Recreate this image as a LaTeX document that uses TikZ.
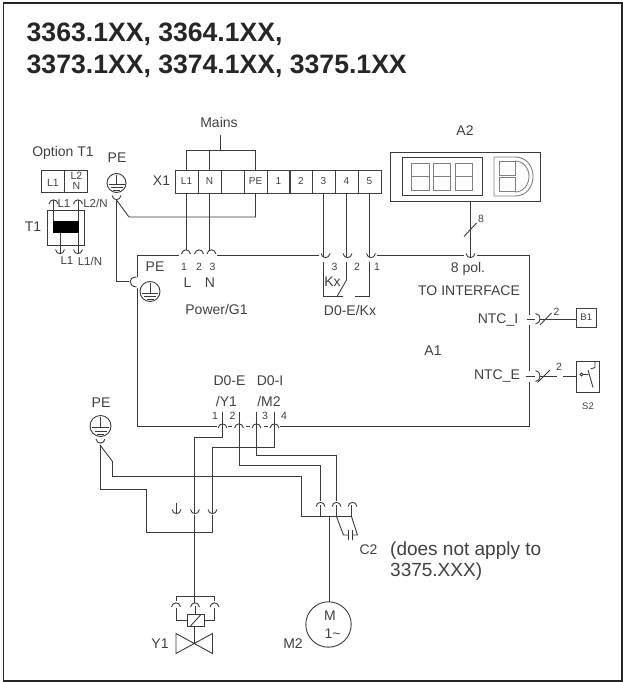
\documentclass[tikz,border=0pt]{standalone}
\usepackage{fontspec}
\setmainfont{Liberation Sans}
\usepackage{tikz}
\definecolor{inkwire}{HTML}{3A3A3A}
\definecolor{inktext}{HTML}{404040}
\newcommand{\hatcon}[2]{(#1-4.5,#2+2) .. controls (#1-3.5,#2-3.5) and (#1+3.5,#2-3.5) .. (#1+4.5,#2+2)}
\newcommand{\cupcon}[2]{(#1-4.5,#2-2) .. controls (#1-3.5,#2+3.5) and (#1+3.5,#2+3.5) .. (#1+4.5,#2-2)}
\tikzset{
  wire/.style={color=inkwire,line width=0.9pt},
  lbl/.style={color=inktext,font=\fontsize{14}{16}\selectfont,inner sep=0pt},
  smalllbl/.style={color=inktext,font=\fontsize{10.5}{12}\selectfont,inner sep=0pt},
  notelbl/.style={color=inktext,font=\fontsize{19}{22}\selectfont,inner sep=0pt},
  titlelbl/.style={color=black!85,font=\fontsize{26.6}{30}\selectfont\bfseries,inner sep=0pt},
  cell/.style={draw=inkwire,line width=0.9pt,color=inktext,font=\fontsize{10}{12}\selectfont,minimum width=23pt,minimum height=23pt,inner sep=0pt}
}
\begin{document}
\begin{tikzpicture}[x=1pt,y=-1pt]
      \useasboundingbox (0,0) rectangle (623,682);
      \draw[color=black!85,line width=1.5pt] (3.5,3) rectangle (622,681);
      \node[titlelbl,anchor=base west] (title1) at (26.5,41.7) {3363.1XX, 3364.1XX,};
      \node[titlelbl,anchor=base west] (title2) at (26.5,74) {3373.1XX, 3374.1XX, 3375.1XX};
      % X1 terminal strip
      \node[lbl] (mains) at (219,122.5) {Mains};
      \node[lbl] (x1) at (161.5,181) {X1};
      \foreach \nm/\xx/\tx in {tL/186.5/L1,tN/209.5/N,tB/232.5/,tPE/255.5/PE,t1/278.5/1,t2/301/2,t3/323.5/3,t4/346.5/4,t5/369.5/5}
        \node[cell] (\nm) at (\xx,181.5) {\tx};
      \coordinate (mtop) at (220.5,135);
      \coordinate (mbar) at (220.5,150.5);
      \draw[wire] (mtop) -- (mbar);
      \draw[wire] (tL.north) -- (tL.north |- mbar) -- (tPE.north |- mbar) -- (tPE.north);
      \draw[wire] (tN.north) -- (tN.north |- mbar);
      % A1 outline, broken at the connectors
      \draw[wire] (137,277) -- (137,255) -- (179,255);
      \draw[wire] (217,255) -- (319,255);
      \draw[wire] (377,255) -- (464,255);
      \draw[wire] (477,255) -- (529,255) -- (529,315);
      \draw[wire] (529,325) -- (529,371);
      \draw[wire] (529,382) -- (529,426.5) -- (280,426.5);
      \draw[wire] (217,426.5) -- (137,426.5) -- (137,288);
      \foreach \xx in {228,246,264} \draw[wire] (\xx,426.5) -- (\xx+4,426.5);
      \node[lbl] (a1) at (433,351) {A1};
      % top connectors of A1
      \foreach \xx in {186,199,211.5} \draw[wire] \hatcon{\xx}{252};
      \foreach \xx in {325.5,347.5,371,470.5} \draw[wire] \cupcon{\xx}{255.5};
      \draw[wire] (tL.south) -- (186.5,250);
      \draw[wire] (tN.south) -- (209.5,250);
      \draw[wire] (t3.south) -- (323.5,257);
      \draw[wire] (t4.south) -- (346.5,257);
      \draw[wire] (t5.south) -- (369.5,257);
      \foreach \xx/\tx in {184/1,199/2,212.5/3} \node[smalllbl] (pin\tx) at (\xx,267) {\tx};
      \node[lbl] (pL) at (187.5,283) {L};
      \node[lbl] (pN) at (210,283) {N};
      \node[lbl] (power) at (216.5,309) {Power/G1};
      % PE mains side
      \node[lbl] (pe1) at (117,158) {PE};
      \draw[wire] (116.5,183) circle (9.5);
      \draw[wire] (116.5,174.5) -- (116.5,184) (108.5,184) -- (124.5,184) (110.5,187) -- (122.5,187) (113,190) -- (120,190);
      \draw[wire] \cupcon{116.5}{197.5};
      \coordinate (pefork) at (116.5,200);
      \draw[wire] (tPE.south) -- (255.5,217) -- (129,217) -- (pefork);
      \draw[wire] (pefork) -- (116.5,281.5) -- (129,281.5);
      \draw[wire] (136.5,277) .. controls (128,276.5) and (128,286.5) .. (136.5,287);
      \node[lbl] (pe2) at (155,267) {PE};
      \draw[wire] (150,291.5) circle (10);
      \draw[wire] (150,283) -- (150,293) (142,293) -- (158,293) (144,296.5) -- (156,296.5) (146.5,299.5) -- (153.5,299.5);
      % Option T1
      \node[lbl] (opt) at (63,153) {Option T1};
      \draw[wire] (41.5,170) rectangle (87.5,192.5) (64.5,170) -- (64.5,192.5);
      \node[smalllbl] (oL) at (53,182.5) {L1};
      \node[smalllbl,align=center] (oN) at (76.5,181) {L2\\[-2pt]N};
      \draw[wire] \hatcon{53.5}{202};
      \draw[wire] \hatcon{78}{202};
      \draw[wire] (47.5,210) rectangle (84.5,245);
      \draw[fill=black,draw=black] (53.5,221) rectangle (78.5,232.5);
      \draw[wire] (53.5,200) -- (53.5,221) (78,200) -- (78,221);
      \draw[wire] (60,232.5) -- (60,253) (78,232.5) -- (78,253);
      \draw[wire] \cupcon{60}{251.5};
      \draw[wire] \cupcon{78}{251.5};
      \node[lbl] (t1lab) at (33,227) {T1};
      \node[smalllbl,font=\fontsize{11.5}{12}\selectfont] (l1a) at (64,203.5) {L1};
      \node[smalllbl,font=\fontsize{11.5}{12}\selectfont] (l2a) at (95.5,203.5) {L2/N};
      \node[smalllbl,font=\fontsize{11.5}{12}\selectfont] (l1b) at (67,261) {L1};
      \node[smalllbl,font=\fontsize{11.5}{12}\selectfont] (l1c) at (90,261) {L1/N};
      % Kx contact
      \draw[wire] (323.5,262) -- (323.5,296) -- (343,296);
      \draw[wire] (355,296) -- (369.5,296) -- (369.5,262);
      \draw[wire] (346.5,262) -- (346.5,280) -- (337,296.5);
      \foreach \xx/\tx in {334.5/3,357/2,377/1} \node[smalllbl] (kx\tx) at (\xx,267) {\tx};
      \node[lbl] (kx) at (332.5,282) {Kx};
      \node[lbl] (d0kx) at (350,310) {D0-E/Kx};
      \node[lbl] (pol) at (468,269) {8 pol.};
      \node[lbl] (iface) at (469,291) {TO INTERFACE};
      % A2 display
      \node[lbl] (a2) at (465,131) {A2};
      \draw[wire] (390.5,152.5) rectangle (540.5,201);
      \draw[wire] (402,157) rectangle (482.5,195);
      \foreach \xx in {411.5,433,455} {
        \draw[wire,color=gray] (\xx,163) rectangle (\xx+17.5,190);
        \draw[wire,color=gray] (\xx,176.5) -- (\xx+17.5,176.5);
      }
      \draw[wire,color=gray] (494,157) -- (515,157) .. controls (528,157) and (533,168) .. (533,176.5) .. controls (533,185) and (528,196) .. (515,196) -- (494,196) -- cycle;
      \draw[wire,color=gray] (515,161) .. controls (524,161) and (529,169) .. (529,176.5) .. controls (529,184) and (524,192) .. (515,192);
      \draw[wire,color=gray] (499.5,161) rectangle (515,175.5) (499.5,177.5) rectangle (515,191.5);
      \draw[wire] (470.5,201) -- (470.5,257);
      \draw[wire] (464,236.5) -- (476.5,223);
      \node[smalllbl] (n8) at (481,219) {8};
      % NTC side
      \node[lbl] (ntci) at (498,320) {NTC\_I};
      \node[lbl] (ntce) at (497,376) {NTC\_E};
      \draw[wire] (526.5,319) -- (535,319) (525.5,376) -- (535,376);
      \draw[wire] (535.5,313.5) .. controls (541.5,314) and (541.5,323.5) .. (535.5,324);
      \draw[wire] (535.5,370.5) .. controls (541.5,371) and (541.5,381) .. (535.5,381.5);
      \draw[wire] (540,319) -- (576.5,319);
      \draw[wire] (540,325) -- (551.5,313);
      \node[smalllbl] (n2a) at (556.5,312) {2};
      \node[cell,minimum width=19.5pt,minimum height=19pt,font=\fontsize{9.5}{11}\selectfont] (b1) at (586.3,317.5) {B1};
      \draw[wire] (540,376) -- (556.5,376) (563,376) -- (576.5,376);
      \draw[wire] (537.5,382.5) -- (550,370);
      \node[smalllbl] (n2b) at (559,367) {2};
      \draw[wire] (576.5,361.5) rectangle (599,392.5);
      \draw[wire] (581.5,374.5) circle (1.6);
      \draw[wire] (583,374.5) -- (588,374.5) (595,362) -- (595,367.5) -- (590.5,369) (588,370) -- (593,387.5);
      \node[smalllbl,font=\fontsize{9.5}{11}\selectfont] (s2) at (588,406) {S2};
      % lower connectors of A1
      \foreach \xx in {222.5,239,256.5,274.5} {
        \draw[wire] \hatcon{\xx}{426};
        \draw[wire] (\xx,411.5) -- (\xx,428);
      }
      \foreach \xx/\tx in {215/1,232.5/2,265/3,284/4} \node[smalllbl] (lo\tx) at (\xx,416) {\tx};
      \node[lbl] (d0e) at (229.5,380.5) {D0-E};
      \node[lbl] (d0i) at (270,380.5) {D0-I};
      \node[lbl] (y1top) at (226.5,401) {/Y1};
      \node[lbl] (m2top) at (269,401) {/M2};
      % Y1 and M2 wiring
      \draw[wire] (222.5,428) -- (222.5,437.5) -- (194.5,437.5) -- (194.5,513);
      \draw[wire] (274.5,428) -- (274.5,447.5) -- (212.5,447.5) -- (212.5,513);
      \draw[wire] (239,428) -- (239,465) -- (320.5,465) -- (320.5,501);
      \draw[wire] (256.5,428) -- (256.5,455) -- (336.5,455) -- (336.5,501);
      % lower PE
      \node[lbl] (pe3) at (101,402.5) {PE};
      \draw[wire] (100.5,426) circle (10.5);
      \draw[wire] (100.5,417) -- (100.5,427.5) (92,427.5) -- (109,427.5) (94.5,431) -- (106.5,431) (97,434) -- (104,434);
      \draw[wire] \cupcon{100.5}{441};
      \coordinate (pelow) at (100,445);
      \draw[wire] (pelow) -- (100,489.5) -- (146,489.5) -- (146,532.5) -- (212.5,532.5) -- (212.5,515);
      \draw[wire] (pelow) -- (112.5,461.5) -- (112.5,476.5) -- (301.5,476.5) -- (301.5,516.5) -- (351.5,516.5) -- (351.5,505);
      \draw[wire] (320.5,505) -- (320.5,516.5) (336.5,505) -- (336.5,516.5);
      \foreach \xx in {320.5,336.5,352.5} \draw[wire] \hatcon{\xx}{504.5};
      \foreach \xx in {176.5,195,212.5} \draw[wire] \cupcon{\xx}{511.5};
      \draw[wire] (176.5,503) -- (176.5,514);
      % C2
      \draw[wire] (336.5,516.5) -- (343.5,535) -- (348.5,535) (348.5,530) -- (348.5,540);
      \draw[wire] (351.5,516.5) -- (357.5,535) -- (352.5,535) (352.5,530) -- (352.5,540);
      \node[lbl] (c2) at (368.5,550) {C2};
      \node[notelbl,anchor=base west] (note1) at (390,555) {(does not apply to};
      \node[notelbl,anchor=base west] (note2) at (390,576.5) {3375.XXX)};
      % valve Y1
      \draw[wire] (194.5,515) -- (194.5,603);
      \draw[wire] (176,601) -- (176,596) -- (214.5,596) -- (214.5,601);
      \foreach \xx in {176,195,214.5} \draw[wire] \hatcon{\xx}{605};
      \draw[wire] (176,608) -- (176,620) -- (187.5,620);
      \draw[wire] (214.5,608) -- (214.5,620) -- (204,620);
      \draw[wire] (195,606) -- (195,614);
      \draw[wire] (187.5,614) rectangle (204,626.5);
      \draw[wire] (190.5,626) -- (200.5,615);
      \draw[wire] (194.5,626.5) -- (194.5,643.5);
      \draw[wire] (176,633.5) -- (212.5,653.5) -- (212.5,633.5) -- (176,653.5) -- cycle;
      \node[lbl] (y1) at (160,643.5) {Y1};
      % motor M2
      \draw[wire] (329,516.5) -- (329,601.5);
      \draw[wire] (328.5,624.5) circle (22.7);
      \node[lbl] (m) at (330,616) {M};
      \node[lbl] (one) at (332.5,633.5) {1\char`\~};
      \node[lbl] (m2) at (293,644) {M2};
    \end{tikzpicture}
\end{document}
